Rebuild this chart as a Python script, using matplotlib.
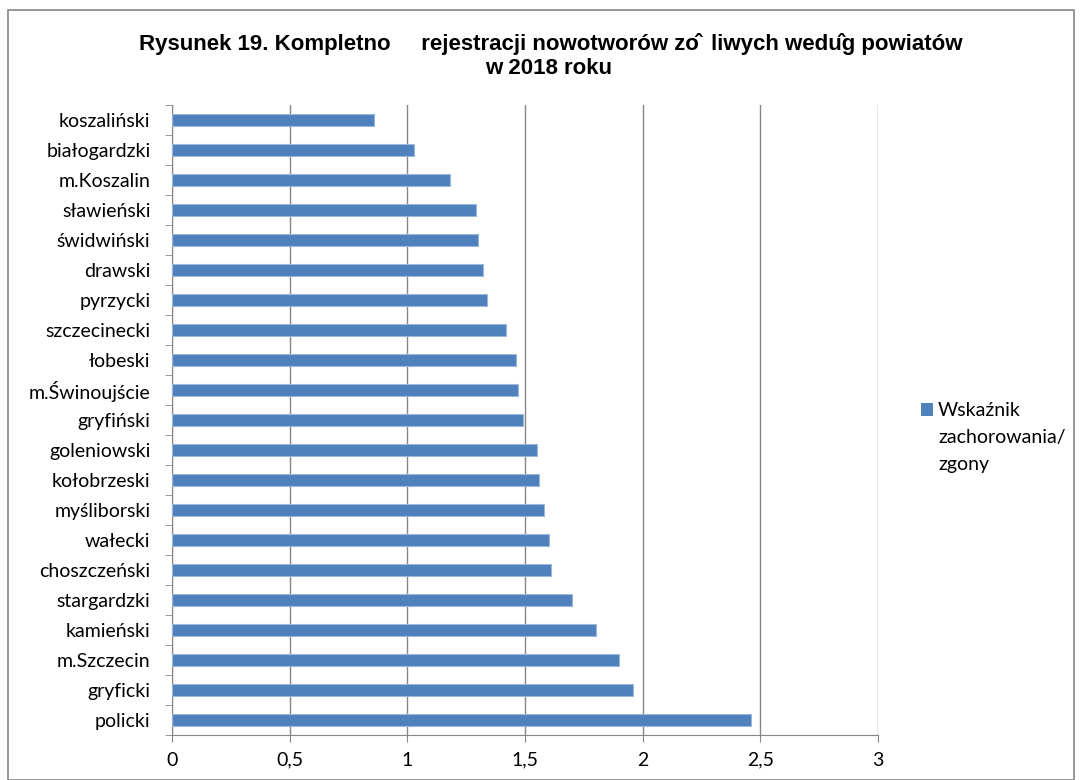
import matplotlib.pyplot as plt
import numpy as np
from matplotlib.patches import Rectangle

# powiaty (top to bottom as in the chart) and their values
powiaty = ['koszaliński', 'białogardzki', 'm.Koszalin', 'sławieński', 'świdwiński',
           'drawski', 'pyrzycki', 'szczecinecki', 'łobeski', 'm.Świnoujście',
           'gryfiński', 'goleniowski', 'kołobrzeski', 'myśliborski', 'wałecki',
           'choszczeński', 'stargardzki', 'kamieński', 'm.Szczecin', 'gryficki', 'policki']
wskaznik = [0.86, 1.03, 1.18, 1.29, 1.30, 1.32, 1.34, 1.42, 1.46, 1.47,
            1.49, 1.55, 1.56, 1.58, 1.60, 1.61, 1.70, 1.80, 1.90, 1.96, 2.46]
x_ticks = [0, 0.5, 1, 1.5, 2, 2.5, 3]
x_labels = ['0', '0,5', '1', '1,5', '2', '2,5', '3']
legend_lines = ['Wskaźnik', 'zachorowania/', 'zgony']

label_font = 'Lato'
grid_color = '#868686'

fig = plt.figure(figsize=(10.82, 7.8), dpi=100)
ax = fig.add_axes([0.159, 0.0577, 0.6525, 0.8077])

y = np.arange(len(powiaty))[::-1]
ax.barh(y, wskaznik, height=0.4, color='#4F81BD', edgecolor='#9BB7D9', linewidth=0.8, zorder=3)

ax.set_xlim(0, 3)
ax.set_ylim(-0.5, len(powiaty) - 0.5)
ax.set_xticks(x_ticks)
ax.set_xticklabels(x_labels, fontsize=14, family=label_font)
ax.set_yticks(y)
ax.set_yticklabels(powiaty, fontsize=14, family=label_font)
ax.tick_params(axis='y', length=0, pad=15.5)
ax.tick_params(axis='x', length=5, color=grid_color, pad=7)

# minor ticks between categories on the y axis
ax.set_yticks(np.arange(-0.5, len(powiaty), 1), minor=True)
ax.tick_params(axis='y', which='minor', length=5, color=grid_color)

ax.grid(axis='x', color=grid_color, linewidth=1, zorder=0)
for side in ['top', 'right']:
    ax.spines[side].set_visible(False)
ax.spines['left'].set_color(grid_color)
ax.spines['bottom'].set_color(grid_color)

fig.text(551 / 1082, 1 - 44 / 780,
         'Rysunek 19. Kompletno     rejestracji nowotworów zo\u0302  liwych wedu\u0302g powiatów',
         ha='center', va='center', fontsize=16, fontweight='bold', family='Liberation Sans')
fig.text(549 / 1082, 1 - 68 / 780, 'w 2018 roku', ha='center', va='center', fontsize=16,
         fontweight='bold', family='Liberation Sans')

# legend drawn by hand to match placement
fig.patches.append(Rectangle((921 / 1082, 1 - 416 / 780), 12 / 1082, 13 / 780,
                             transform=fig.transFigure, facecolor='#4F81BD', edgecolor='none'))
for i, line in enumerate(legend_lines):
    fig.text(938 / 1082, 1 - (416 + 27 * i) / 780, line, ha='left', va='baseline',
             fontsize=14, family=label_font)

# outer frame
fig.patches.append(Rectangle((8 / 1082, 0), 1 - 16 / 1082, 1 - 10 / 780, transform=fig.transFigure,
                             fill=False, edgecolor=grid_color, linewidth=1.2))

fig.savefig('out.png', dpi=100)
